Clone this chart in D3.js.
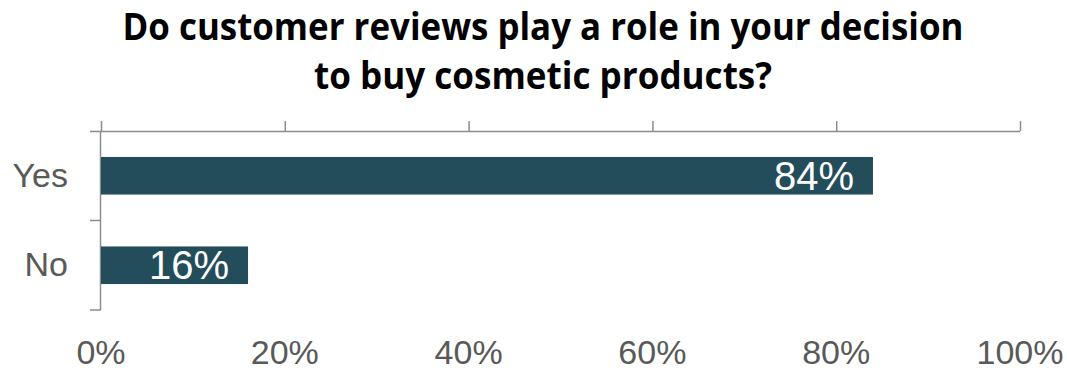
<!DOCTYPE html>
<html>
<head>
<meta charset="utf-8">
<script src="https://cdn.jsdelivr.net/npm/d3@7"></script>
<style>
  html, body { margin: 0; padding: 0; background: #fff; }
  svg { display: block; }
</style>
</head>
<body>
<svg id="chart" width="1067" height="370"></svg>
<script>
// Survey answers and their shares (%)
const categories = ["Yes", "No"];
const values = [84, 16];
const tickValues = [0, 20, 40, 60, 80, 100];
const titleLines = ["Do customer reviews play a role in your decision", "to buy cosmetic products?"];

const svg = d3.select("#chart");
const W = 1067, H = 370;
const margin = { left: 101, right: 47, top: 131, bottom: 60 };

const x = d3.scaleLinear().domain([0, 100]).range([margin.left, W - margin.right]);
const y = d3.scaleBand().domain(categories).range([margin.top, H - margin.bottom]).paddingInner(0.58).paddingOuter(0.29);

const axisColor = "#8c8c8c";
const labelColor = "#595959";
const barColor = "#234d5a";

// Title
const title = svg.append("text")
  .attr("x", 543).attr("text-anchor", "middle")
  .style("font-family", "'Liberation Sans Narrow', 'Open Sans', Arial, sans-serif")
  .style("font-weight", "bold").style("font-size", "37px").attr("fill", "#000");
title.append("tspan").attr("x", 543).attr("y", 40).attr("textLength", 841).attr("lengthAdjust", "spacingAndGlyphs").text(titleLines[0]);
title.append("tspan").attr("x", 543).attr("y", 89).attr("textLength", 458).attr("lengthAdjust", "spacingAndGlyphs").text(titleLines[1]);

// Top axis: line with upward ticks
const topAxis = svg.append("g")
  .attr("transform", `translate(0,${margin.top})`)
  .call(d3.axisTop(x).tickValues(tickValues).tickSize(10).tickFormat(""));
topAxis.select(".domain").attr("d", `M${x(0) - 11},0.5H${x(100)}`).attr("stroke", axisColor).attr("stroke-width", 1.5);
topAxis.selectAll(".tick line").attr("stroke", axisColor).attr("stroke-width", 1.5);

// Bottom tick labels
svg.append("g").selectAll("text").data(tickValues).join("text")
  .attr("x", d => x(d)).attr("y", 364).attr("text-anchor", "middle")
  .style("font-family", "Arial, 'Liberation Sans', sans-serif").style("font-size", "34px")
  .attr("fill", labelColor).text(d => d + "%");

// Left category axis
svg.append("line").attr("x1", margin.left - 0.5).attr("x2", margin.left - 0.5)
  .attr("y1", margin.top).attr("y2", H - margin.bottom)
  .attr("stroke", axisColor).attr("stroke-width", 1.5);
svg.append("g").selectAll("line").data([y.step() + margin.top, H - margin.bottom]).join("line")
  .attr("x1", margin.left - 11).attr("x2", margin.left).attr("y1", d => d).attr("y2", d => d)
  .attr("stroke", axisColor).attr("stroke-width", 1.5);
svg.append("g").selectAll("text").data(categories).join("text")
  .attr("x", 68).attr("y", d => y(d) + y.bandwidth() / 2 + 11).attr("text-anchor", "end")
  .style("font-family", "Arial, 'Liberation Sans', sans-serif").style("font-size", "34px")
  .attr("fill", labelColor).text(d => d);

// Bars
svg.append("g").selectAll("rect").data(categories).join("rect")
  .attr("x", x(0)).attr("y", (d) => y(d))
  .attr("width", (d, i) => x(values[i]) - x(0)).attr("height", y.bandwidth())
  .attr("fill", barColor);

// Value labels inside bars
svg.append("g").selectAll("text").data(categories).join("text")
  .attr("x", (d, i) => x(values[i]) - 19).attr("y", d => y(d) + y.bandwidth() / 2 + 14)
  .attr("text-anchor", "end")
  .style("font-family", "Arial, 'Liberation Sans', sans-serif").style("font-size", "40px")
  .attr("fill", "#fff").text((d, i) => values[i] + "%");
</script>
</body>
</html>
